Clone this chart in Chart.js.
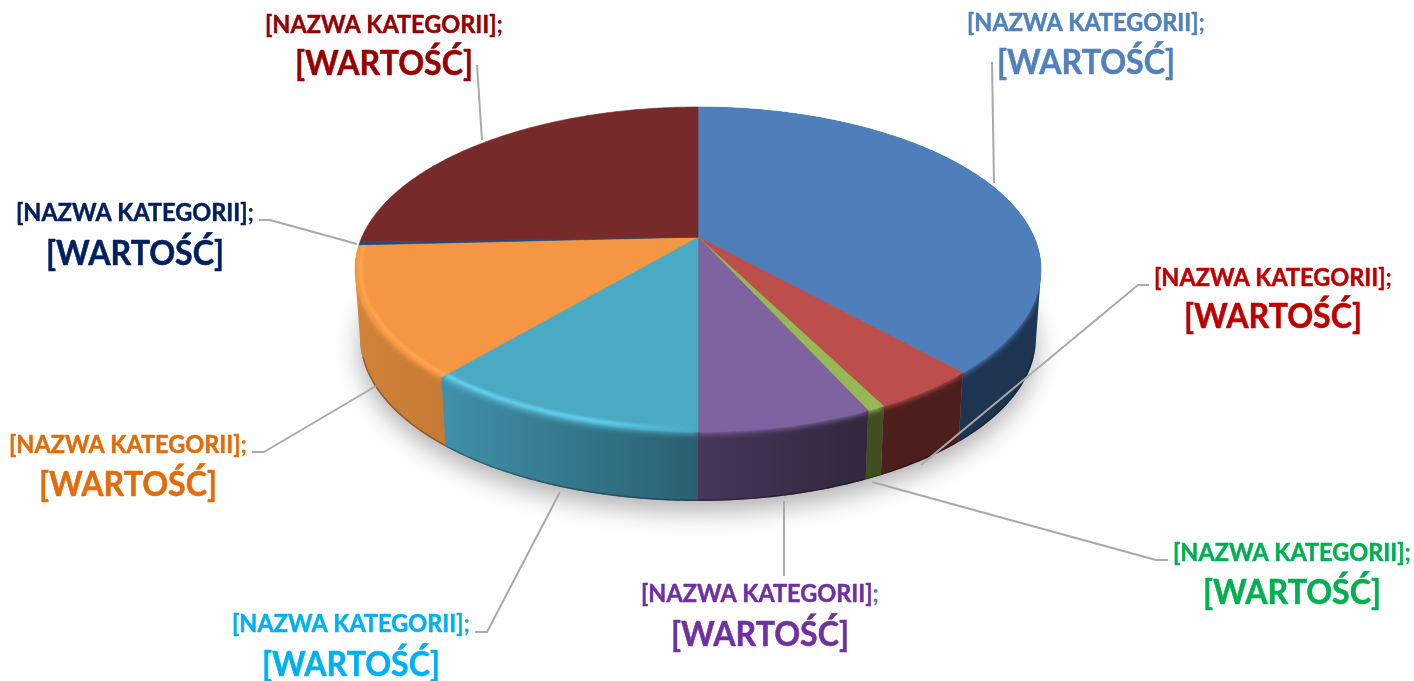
<!DOCTYPE html>
<html lang="pl">
<head>
<meta charset="utf-8">
<title>Wykres kołowy 3D</title>
<script src="https://cdn.jsdelivr.net/npm/chart.js@4"></script>
<style>
  html, body { margin: 0; padding: 0; background: #fff; }
  #wrap { width: 1414px; height: 681px; }
</style>
</head>
<body>
<div id="wrap"><canvas id="chart" width="1414" height="681"></canvas></div>
<script>
// ── Data ─────────────────────────────────────────────────────────────────────
const categories = [
  "[NAZWA KATEGORII]", "[NAZWA KATEGORII]", "[NAZWA KATEGORII]", "[NAZWA KATEGORII]",
  "[NAZWA KATEGORII]", "[NAZWA KATEGORII]", "[NAZWA KATEGORII]", "[NAZWA KATEGORII]",
];
const valueLabels = [
  "[WARTOŚĆ]", "[WARTOŚĆ]", "[WARTOŚĆ]", "[WARTOŚĆ]",
  "[WARTOŚĆ]", "[WARTOŚĆ]", "[WARTOŚĆ]", "[WARTOŚĆ]",
];
const values = [38.3, 4.2, 0.7, 6.8, 11.2, 13.0, 0.3, 25.5];

// ── Colors ───────────────────────────────────────────────────────────────────
const faceColors = ["#4f7fbb", "#bc4f4c", "#97b955", "#7f62a0", "#4aa9c3", "#f49644", "#1f497d", "#772a2a"];
const wallLeft = ["#1d3550", "#4e1e1c", "#424e22", "#47375a", "#3f90aa", "#d08239", "#142f50", "#4f1c1c"];
const wallRight = ["#1d3550", "#4e1e1c", "#424e22", "#32273e", "#2a5f6f", "#c67a34", "#142f50", "#4f1c1c"];
const rimLight = [null, null, null, null, "#68d6f4", "#ffa850", null, null];
const textColors = ["#4f81bd", "#c00000", "#00b050", "#7030a0", "#00b0f0", "#e36c0a", "#002060", "#990000"];
const semiColors = ["#4f81bd", "#c00000", "#00b050", "#4f81bd", "#00b0f0", "#e36c0a", "#002060", "#990000"];
const LEADER = "#a9a9a9";

// ── Layout (pixel positions of the labels and their leader lines) ────────────
const labelPos = [
  { x: 1086, name: 31, val: 74 },
  { x: 1273, name: 286, val: 328 },
  { x: 1292, name: 561, val: 604 },
  { x: 760, name: 602, val: 646 },
  { x: 351, name: 632, val: 676 },
  { x: 128, name: 453, val: 496 },
  { x: 135, name: 221, val: 265 },
  { x: 384, name: 33, val: 75 },
];
const leaders = [
  [[992, 62], [994, 183]],
  [[1149, 285], [1138, 285], [921, 465]],
  [[1168, 560], [1156, 560], [872, 482]],
  [[784, 576], [784, 501]],
  [[475, 632], [487, 632], [560, 492]],
  [[252, 452], [264, 452], [376, 386]],
  [[259, 220], [270, 220], [357, 244]],
  [[477, 65], [482, 140]],
];

// ── Perspective of the disc: far rim, apex and near rim on screen ────────────
const CX = 698, TOP_Y = 107, APEX_Y = 237, NEAR_Y = 432, HALF_W = 343;
const WALL_H = 69, WALL_TAPER = 0.985;
const kTilt = (2 * APEX_Y - NEAR_Y - TOP_Y) / (NEAR_Y - TOP_Y);
const B = NEAR_Y * (1 + kTilt) - APEX_Y;
const A = HALF_W * Math.sqrt(1 - kTilt * kTilt);

function project(theta, rho) {
  const x = rho * Math.sin(theta), y = -rho * Math.cos(theta);
  const d = 1 + kTilt * y;
  return [CX + A * x / d, (APEX_Y + B * y) / d];
}

function lower(theta) {
  const p = project(theta, 1);
  return [CX + (p[0] - CX) * WALL_TAPER, p[1] + WALL_H];
}

function sampleAngles(a0, a1) {
  const n = Math.max(2, Math.ceil((a1 - a0) / 0.01));
  const out = [];
  for (let i = 0; i <= n; i++) out.push(a0 + (a1 - a0) * i / n);
  return out;
}

// ── Drawing helpers ──────────────────────────────────────────────────────────
function facePath(ctx, a0, a1) {
  ctx.beginPath();
  ctx.moveTo(CX, APEX_Y);
  sampleAngles(a0, a1).forEach((a) => ctx.lineTo(...project(a, 1)));
  ctx.closePath();
}

// one quad per step, all wound the same way, so the fold at the sides of the
// cylinder stays filled (a single outline would leave it empty)
function wallPath(ctx, a0, a1) {
  const ang = sampleAngles(a0, a1);
  ctx.beginPath();
  for (let i = 0; i < ang.length - 1; i++) {
    const q = [project(ang[i], 1), project(ang[i + 1], 1), lower(ang[i + 1]), lower(ang[i])];
    let area = 0;
    q.forEach((p, j) => {
      const n = q[(j + 1) % 4];
      area += p[0] * n[1] - n[0] * p[1];
    });
    if (area < 0) q.reverse();
    ctx.moveTo(q[0][0], q[0][1]);
    q.slice(1).forEach((p) => ctx.lineTo(p[0], p[1]));
    ctx.closePath();
  }
}

function drawPie3D(chart) {
  const ctx = chart.ctx;
  const arcs = chart.getDatasetMeta(0).data;
  // angles come from the library's arc elements, 0 = top, clockwise
  const slices = arcs.map((arc) => ({
    a0: arc.startAngle + Math.PI / 2,
    a1: arc.endAngle + Math.PI / 2,
  }));

  // soft shadow under the disc
  ctx.save();
  ctx.shadowColor = "rgba(0,0,0,0.32)";
  ctx.shadowBlur = 26;
  ctx.shadowOffsetY = 10;
  ctx.fillStyle = "#888";
  ctx.beginPath();
  sampleAngles(0, Math.PI * 2).forEach((a) => ctx.lineTo(...lower(a)));
  ctx.closePath();
  ctx.fill();
  ctx.restore();

  // side walls, slices that sit on the far side have none to show
  slices.forEach((s, i) => {
    if (s.a0 > Math.PI * 1.45) return;
    const xs = sampleAngles(s.a0, s.a1).map((a) => lower(a)[0]);
    const g = ctx.createLinearGradient(Math.min(...xs), 0, Math.max(...xs) + 0.1, 0);
    g.addColorStop(0, wallLeft[i]);
    g.addColorStop(1, wallRight[i]);
    wallPath(ctx, s.a0, s.a1);
    ctx.fillStyle = g;
    ctx.fill();

    // dark lower edge + soft bevel falling from the top face on the wall
    ctx.save();
    wallPath(ctx, s.a0, s.a1);
    ctx.clip();
    ctx.beginPath();
    sampleAngles(Math.max(s.a0, Math.PI * 0.6), Math.min(s.a1, Math.PI * 1.4))
      .forEach((a) => ctx.lineTo(...lower(a)));
    ctx.strokeStyle = "rgba(0,0,0,0.28)";
    ctx.lineWidth = 3;
    ctx.stroke();
    ctx.shadowColor = faceColors[i];
    ctx.shadowBlur = 5;
    ctx.shadowOffsetY = 2;
    facePath(ctx, s.a0, s.a1);
    ctx.fillStyle = faceColors[i];
    ctx.fill();
    ctx.restore();
  });

  // top faces
  slices.forEach((s, i) => {
    facePath(ctx, s.a0, s.a1);
    ctx.fillStyle = faceColors[i];
    ctx.fill();
    ctx.strokeStyle = faceColors[i];
    ctx.lineWidth = 0.6;
    ctx.stroke();
  });

  // light band along the rim
  slices.forEach((s, i) => {
    if (!rimLight[i]) return;
    ctx.save();
    facePath(ctx, s.a0, s.a1);
    ctx.clip();
    ctx.filter = "blur(1.5px)";
    const g = ctx.createLinearGradient(project(s.a1, 1)[0], 0, project(s.a0, 1)[0], 0);
    if (s.a0 < Math.PI * 1.05) {
      g.addColorStop(0, rimLight[i]);
      g.addColorStop(0.6, rimLight[i]);
      g.addColorStop(1, faceColors[i]);
    } else {
      g.addColorStop(0, rimLight[i]);
      g.addColorStop(1, rimLight[i]);
    }
    ctx.strokeStyle = g;
    ctx.lineWidth = 3.5;
    ctx.beginPath();
    sampleAngles(s.a0, s.a1).forEach((a) => ctx.lineTo(...project(a, 0.985)));
    ctx.stroke();
    ctx.restore();
  });
}

function drawLabels(chart) {
  const ctx = chart.ctx;
  ctx.save();
  ctx.lineWidth = 2;
  ctx.strokeStyle = LEADER;
  ctx.lineJoin = "round";
  leaders.forEach((pts) => {
    ctx.beginPath();
    pts.forEach((p, i) => (i ? ctx.lineTo(p[0], p[1]) : ctx.moveTo(p[0], p[1])));
    ctx.stroke();
  });

  ctx.textBaseline = "alphabetic";
  ctx.lineWidth = 0.5;
  categories.forEach((name, i) => {
    const pos = labelPos[i];
    ctx.font = "bold 24px Lato";
    ctx.textAlign = "left";
    const wSemi = ctx.measureText(";").width;
    const wName = 238 - wSemi;
    const left = pos.x - 119;
    ctx.fillStyle = textColors[i];
    ctx.strokeStyle = textColors[i];
    ctx.fillText(name, left, pos.name, wName);
    ctx.strokeText(name, left, pos.name, wName);
    ctx.fillStyle = semiColors[i];
    ctx.fillText(";", left + wName, pos.name);

    ctx.font = "bold 35px Lato";
    ctx.textAlign = "center";
    ctx.fillStyle = textColors[i];
    ctx.fillText(valueLabels[i], pos.x, pos.val, 178);
    ctx.strokeText(valueLabels[i], pos.x, pos.val, 178);
  });
  ctx.restore();
}

const pie3d = {
  id: "pie3d",
  beforeDatasetsDraw(chart) {
    drawPie3D(chart);
    return false;
  },
  afterDraw(chart) {
    drawLabels(chart);
  },
};

// ── Init ─────────────────────────────────────────────────────────────────────
new Chart(document.getElementById("chart"), {
  type: "pie",
  data: {
    labels: categories,
    datasets: [{ data: values, backgroundColor: faceColors, borderWidth: 0 }],
  },
  options: {
    responsive: false,
    animation: false,
    events: [],
    plugins: { legend: { display: false }, tooltip: { enabled: false } },
  },
  plugins: [pie3d],
});
</script>
</body>
</html>
